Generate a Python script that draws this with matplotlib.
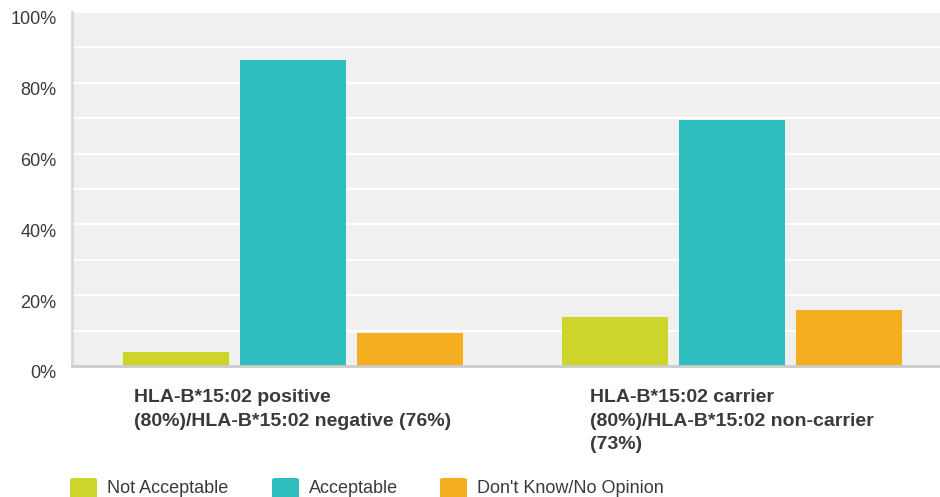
import matplotlib.pyplot as plt
import matplotlib.transforms as mtransforms
from matplotlib.patches import FancyBboxPatch

plt.rcParams['font.family'] = ['Liberation Sans', 'DejaVu Sans']

# survey answers, percent of respondents
categories = ['HLA-B*15:02 positive\n(80%)/HLA-B*15:02 negative (76%)',
              'HLA-B*15:02 carrier\n(80%)/HLA-B*15:02 non-carrier\n(73%)']
series_names = ['Not Acceptable', 'Acceptable', "Don't Know/No Opinion"]
not_acceptable = [4.0, 13.8]
acceptable = [86.4, 69.5]
dont_know = [9.3, 15.8]
yticks = [0, 20, 40, 60, 80, 100]
ytick_labels = ['0%', '20%', '40%', '60%', '80%', '100%']

colors = ['#CDD42A', '#2FBDBE', '#F5AE1F']
text_color = '#3a3a3a'

W, H = 940, 497
fig = plt.figure(figsize=(W / 100, H / 100), dpi=100)
ax = fig.add_axes([72 / W, 1 - 366 / H, 868 / W, 354 / H])
ax.set_facecolor('#EFF0EF')

width = 0.2415
step = 0.267
values = [not_acceptable, acceptable, dont_know]
for i, (vals, col) in enumerate(zip(values, colors)):
    xs = [k + (i - 1) * step for k in range(len(categories))]
    ax.bar(xs, vals, width=width, color=col, zorder=3, linewidth=0)

ax.set_xlim(-0.503, 1.474)
ax.set_ylim(0, 100)

# white gridlines every 10%, labels every 20%
for y in range(10, 101, 10):
    ax.axhline(y, color='white', lw=1.6, zorder=1)
ax.set_yticks(yticks)
ax.set_yticklabels(ytick_labels, fontsize=13, color=text_color)
ax.tick_params(axis='y', length=0, pad=11)
ax.set_xticks([])
shift = mtransforms.ScaledTranslation(0, -6 / 100, fig.dpi_scale_trans)
for lbl in ax.get_yticklabels():
    lbl.set_transform(lbl.get_transform() + shift)

for s in ['top', 'right']:
    ax.spines[s].set_visible(False)
ax.spines['left'].set_color('#d9d9d9')
ax.spines['left'].set_linewidth(2)
ax.spines['bottom'].set_color('#cccccc')
ax.spines['bottom'].set_linewidth(2)
ax.spines['bottom'].set_zorder(4)

# category labels under each group
trans = mtransforms.blended_transform_factory(ax.transData, ax.transAxes)
for k, cat in enumerate(categories):
    ax.text(k, -0.066, cat, transform=trans, ha='center', va='top',
            multialignment='left', fontsize=14, fontweight='bold',
            color=text_color, linespacing=1.5)

# legend along the bottom edge
legend_x = [70, 272, 440]
for name, col, x in zip(series_names, colors, legend_x):
    fig.patches.append(FancyBboxPatch((x / W, 1 - 505 / H), 27 / W, 27 / H,
                                      boxstyle='round,pad=0,rounding_size=0.004',
                                      transform=fig.transFigure, color=col,
                                      linewidth=0))
    fig.text((x + 37) / W, 1 - 493 / H, name, fontsize=13, color=text_color,
             va='baseline', ha='left')

fig.savefig('out.png', dpi=100)
